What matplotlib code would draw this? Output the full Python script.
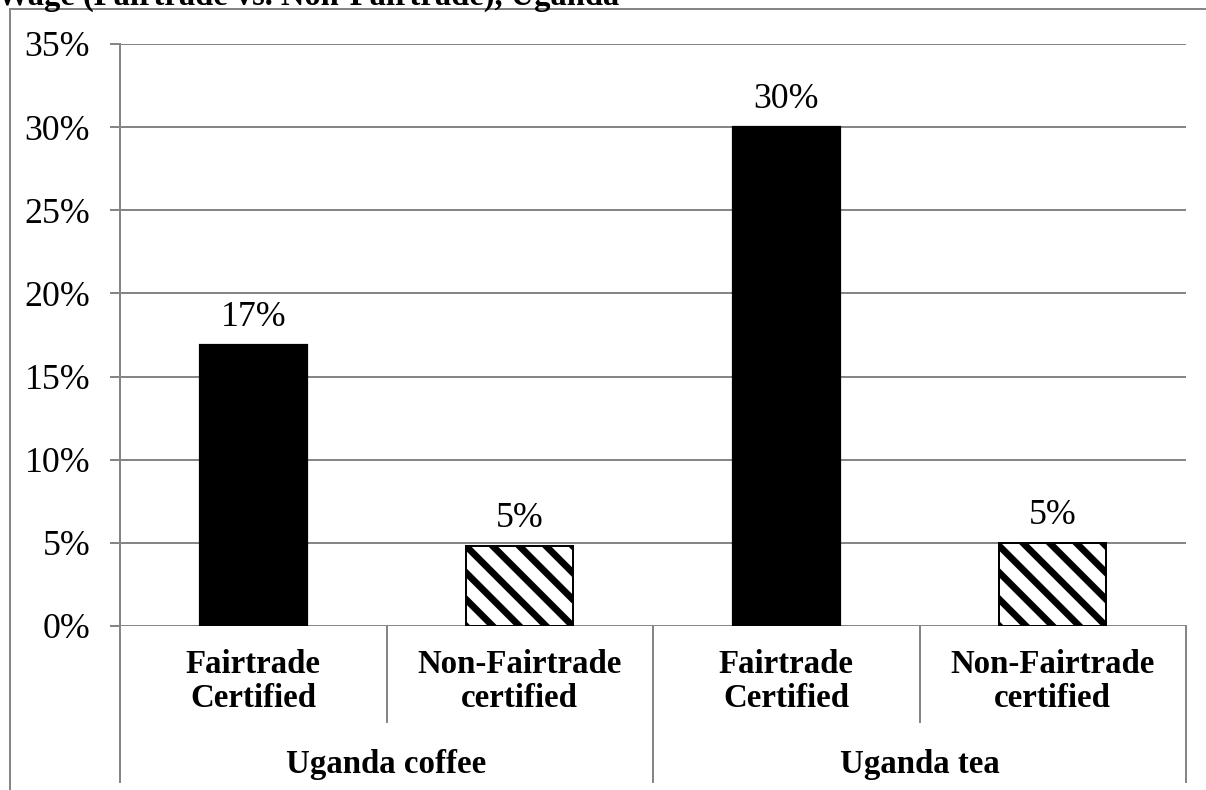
import matplotlib
matplotlib.use("Agg")
import matplotlib.pyplot as plt
import matplotlib.transforms as mtransforms
from matplotlib.lines import Line2D

# data
groups = ["Uganda coffee", "Uganda tea"]
categories = ["Fairtrade\nCertified", "Non-Fairtrade\ncertified",
              "Fairtrade\nCertified", "Non-Fairtrade\ncertified"]
values = [0.169, 0.048, 0.30, 0.05]
labels = ["17%", "5%", "30%", "5%"]
hatched = [False, True, False, True]
yticks = [0, 0.05, 0.10, 0.15, 0.20, 0.25, 0.30, 0.35]

DPI = 160
k = 130 / DPI  # sizes below were tuned at 130 dpi
W, H = 1206, 790
grey = '#868686'

plt.rcParams['font.family'] = ['Liberation Serif', 'DejaVu Serif']
plt.rcParams['hatch.linewidth'] = 3.05
plt.rcParams['hatch.color'] = 'black'

fig = plt.figure(figsize=(W / DPI, H / DPI), dpi=DPI)
ax = fig.add_axes([120 / W, 164 / H, 1066 / W, 582 / H])

for i, v in enumerate(values):
    if hatched[i]:
        ax.bar(i, v, width=0.4, color='white', edgecolor='black',
               linewidth=1.1 * k, hatch='\\\\', zorder=3)
    else:
        ax.bar(i, v, width=0.4, color='black', edgecolor='black', zorder=3)
    ax.annotate(labels[i], (i, v), xytext=(0, 10.5 * k), textcoords='offset points',
                ha='center', va='baseline', fontsize=19.8 * k)

ax.set_xlim(-0.5, len(values) - 0.5)
ax.set_ylim(0, 0.35)
ax.set_yticks(yticks)
ax.set_yticklabels([f"{int(round(t * 100))}%" for t in yticks], fontsize=19.8 * k)
ax.tick_params(axis='y', length=5.5 * k, width=1.1 * k, color=grey, pad=11 * k)
ax.set_xticks([])
ax.yaxis.grid(True, color=grey, linewidth=1.1 * k, zorder=0)
for s in ['top', 'right', 'bottom']:
    ax.spines[s].set_visible(False)
ax.spines['left'].set_color(grey)
ax.spines['left'].set_linewidth(1.1 * k)
ax.set_axisbelow(True)

# category axis with group separators
trans = mtransforms.blended_transform_factory(ax.transData, ax.transAxes)
seps = [-0.5, 0.5, 1.5, 2.5, 3.5]
for j, sx in enumerate(seps):
    bottom = -0.268 if j % 2 == 0 else -0.165
    ax.plot([sx, sx], [0, bottom], transform=trans, color=grey,
            linewidth=1.1 * k, clip_on=False)

for i, c in enumerate(categories):
    ax.text(i, -0.139, c, transform=trans, ha='center', va='baseline',
            fontsize=18.2 * k, fontweight='bold', linespacing=1.12)
for g, name in enumerate(groups):
    ax.text(2 * g + 0.5, -0.2526, name, transform=trans, ha='center',
            va='baseline', fontsize=18.2 * k, fontweight='bold')

# chart frame (cropped) and cut-off title
fig.add_artist(Line2D([10 / W, 10 / W], [0, 1 - 9 / H], color=grey, linewidth=1.1 * k))
fig.add_artist(Line2D([10 / W, 1], [1 - 9 / H, 1 - 9 / H], color=grey, linewidth=1.1 * k))
fig.text(-3 / W, 1 - 5 / H, "Wage (Fairtrade vs. Non-Fairtrade), Uganda",
         ha='left', va='baseline', fontsize=18 * k, fontweight='bold')

fig.savefig("out.png", dpi=DPI)
